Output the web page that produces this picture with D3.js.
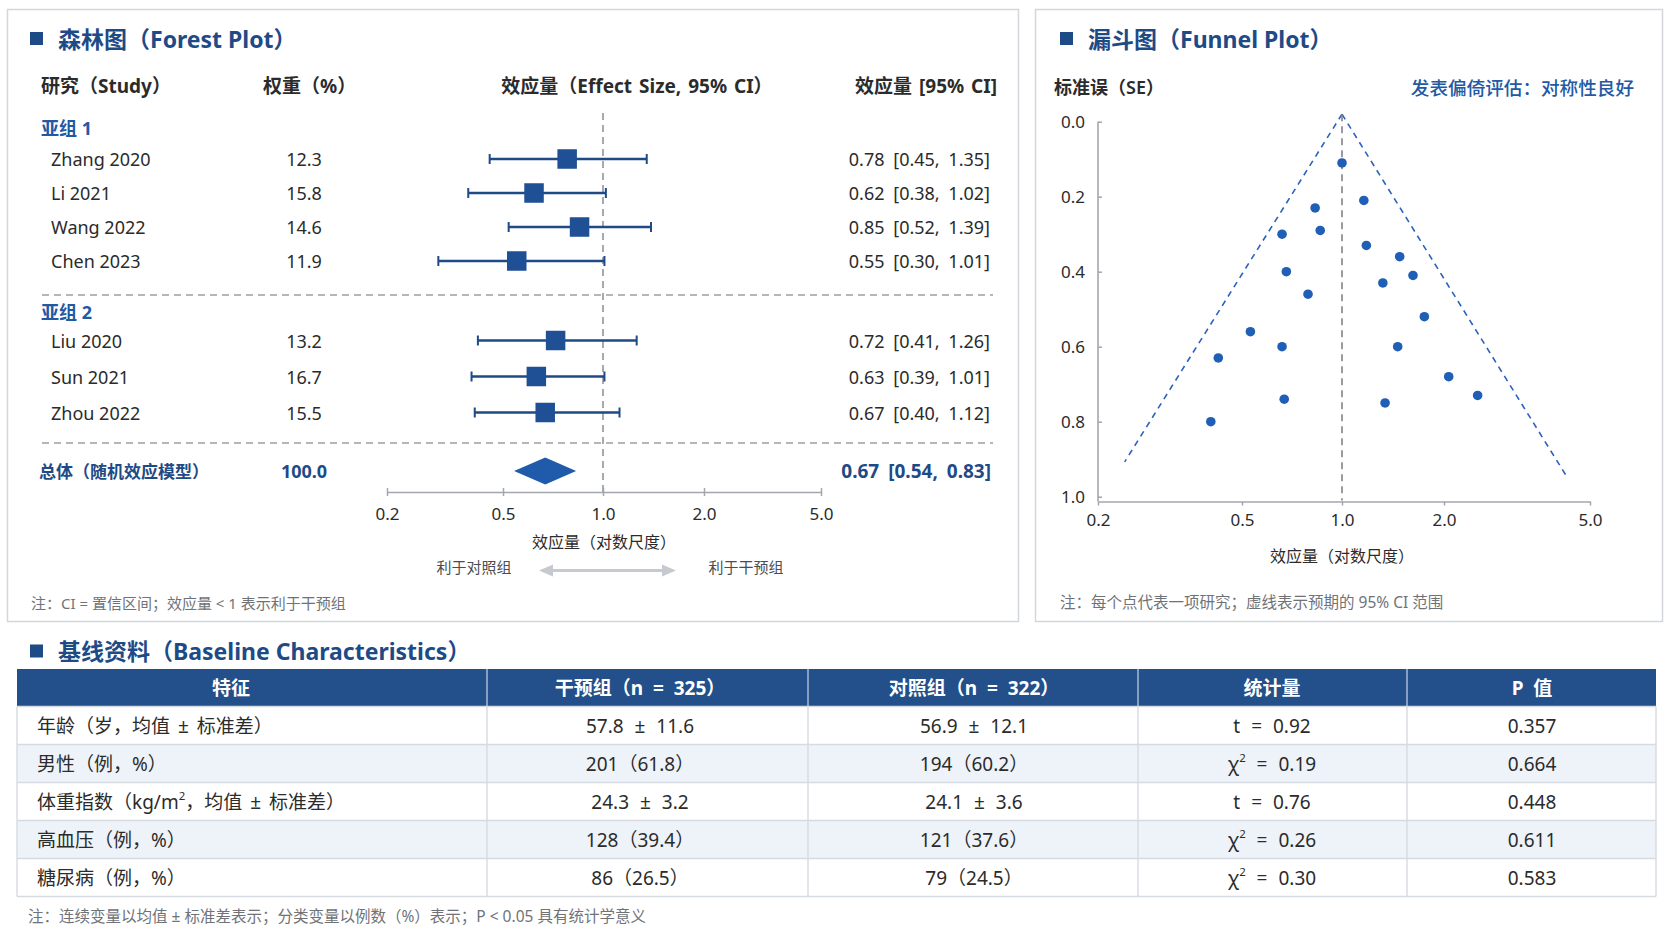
<!DOCTYPE html>
<html><head><meta charset="utf-8">
<script src="https://cdn.jsdelivr.net/npm/d3@7"></script>
<style>
body{margin:0;background:#ffffff;}
svg text{font-family:"Noto Sans","Noto Sans CJK SC",sans-serif;}
</style></head><body>
<svg id="c" width="1672" height="941"></svg>
<script>
// ---------------- DATA ----------------
const studies   = ["Zhang 2020","Li 2021","Wang 2022","Chen 2023","Liu 2020","Sun 2021","Zhou 2022"];
const studyGroup= [1,1,1,1,2,2,2];
const weights   = [12.3,15.8,14.6,11.9,13.2,16.7,15.5];
const effects   = [0.78,0.62,0.85,0.55,0.72,0.63,0.67];
const ciLow     = [0.45,0.38,0.52,0.30,0.41,0.39,0.40];
const ciHigh    = [1.35,1.02,1.39,1.01,1.26,1.01,1.12];
const subgroupLabels = ["亚组 1","亚组 2"];
const overallLabel = "总体（随机效应模型）";
const overallWeight = 100.0;
const overallEffect = 0.67;
const overallLow = 0.54;
const overallHigh = 0.83;
const forestTicks = [0.2,0.5,1.0,2.0,5.0];

const funnelES = [1.00,1.16,0.83,0.66,0.86,1.18,1.48,0.68,1.32,1.62,0.79,1.75,0.53,0.66,1.46,0.43,2.06,2.47,0.67,1.34,0.41];
const funnelSE = [0.11,0.21,0.23,0.30,0.29,0.33,0.36,0.40,0.43,0.41,0.46,0.52,0.56,0.60,0.60,0.63,0.68,0.73,0.74,0.75,0.80];
const funnelLeftES  = [1.0,0.237];
const funnelLeftSE  = [-0.02,0.907];
const funnelRightES = [1.0,4.35];
const funnelRightSE = [-0.02,0.951];
const funnelCenterSE = [-0.02,1.01];
const funnelXTicks = [0.2,0.5,1.0,2.0,5.0];
const funnelYTicks = [0.0,0.2,0.4,0.6,0.8,1.0];

const tableHeaders = ["特征","干预组（n = 325）","对照组（n = 322）","统计量","P 值"];
const features     = ["年龄（岁，均值 ± 标准差）","男性（例，%）","体重指数（kg/m²，均值 ± 标准差）","高血压（例，%）","糖尿病（例，%）"];
const intervention = ["57.8 ± 11.6","201（61.8）","24.3 ± 3.2","128（39.4）","86（26.5）"];
const control      = ["56.9 ± 12.1","194（60.2）","24.1 ± 3.6","121（37.6）","79（24.5）"];
const statistic    = ["t = 0.92","χ² = 0.19","t = 0.76","χ² = 0.26","χ² = 0.30"];
const pValues      = ["0.357","0.664","0.448","0.611","0.583"];

// ---------------- STYLE ----------------
const NAVY = "#1e4a86", BLUE = "#2359a3", BOX = "#1f4f95", TXT = "#2b2b2b", GREY = "#6f7378";
const svg = d3.select("#c");

function superText(sel, str){
  const parts = str.split("²");
  sel.text(null);
  parts.forEach((p,i)=>{
    sel.append("tspan").text(p).attr("dy", i>0 ? 7 : null);
    if(i < parts.length-1) sel.append("tspan").text("2").attr("font-size","0.6em").attr("dy",-7);
  });
}

svg.append("rect").attr("x",7.5).attr("y",9.5).attr("width",1011).attr("height",612)
  .attr("fill","#fff").attr("stroke","#d3d6db").attr("stroke-width",1.5);
svg.append("rect").attr("x",1035.5).attr("y",9.5).attr("width",627).attr("height",612)
  .attr("fill","#fff").attr("stroke","#d3d6db").attr("stroke-width",1.5);

function sectionTitle(x, y, txt){
  svg.append("rect").attr("x",x).attr("y",y-6.5).attr("width",13).attr("height",13).attr("fill",NAVY);
  svg.append("text").attr("x",x+28).attr("y",y).attr("dominant-baseline","central")
    .attr("font-size",23).attr("font-weight",700).attr("fill",NAVY).text(txt);
}
sectionTitle(30, 38.5, "森林图（Forest Plot）");
sectionTitle(1060, 38.5, "漏斗图（Funnel Plot）");
sectionTitle(30, 651, "基线资料（Baseline Characteristics）");

function styleAxis(g){
  g.attr("font-family",null);
  g.selectAll(".tick text").attr("font-size",17).attr("fill",TXT);
  g.selectAll(".tick line").attr("stroke","#a3a7ad").attr("stroke-width",1.5);
  g.select(".domain").attr("stroke","#a3a7ad").attr("stroke-width",1.6);
}

// ---------------- FOREST PLOT ----------------
const fx = d3.scaleLog().domain(forestTicks).range([387,503,603,704,821]);
const forestAxisY = 492;
const rowY = (i) => studyGroup[i]===1 ? 159 + 34*i : 340.5 + 36*(i-4);
const subY = [128, 312];
const sepY = [295, 443];
const overallY = 471;

const hdr = svg.append("g").attr("font-size",19).attr("font-weight",700).attr("fill",TXT).attr("word-spacing",2);
hdr.append("text").attr("x",41).attr("y",86).attr("dominant-baseline","central").text("研究（Study）");
hdr.append("text").attr("x",263).attr("y",86).attr("dominant-baseline","central").text("权重（%）");
hdr.append("text").attr("x",637).attr("y",86).attr("text-anchor","middle").attr("dominant-baseline","central").text("效应量（Effect Size, 95% CI）");
hdr.append("text").attr("x",997).attr("y",86).attr("text-anchor","end").attr("dominant-baseline","central").text("效应量 [95% CI]");

svg.selectAll(".sub").data(subgroupLabels).join("text")
  .attr("x",41).attr("y",(d,i)=>subY[i]).attr("dominant-baseline","central")
  .attr("font-size",18).attr("font-weight",700).attr("fill",BLUE).text(d=>d);

svg.selectAll(".sep").data(sepY).join("line")
  .attr("x1",42).attr("x2",993).attr("y1",d=>d).attr("y2",d=>d)
  .attr("stroke","#9a9ea4").attr("stroke-width",1.3).attr("stroke-dasharray","7,5");

svg.append("line").attr("x1",fx(1)).attr("x2",fx(1)).attr("y1",113).attr("y2",forestAxisY)
  .attr("stroke","#8a8d92").attr("stroke-width",1.5).attr("stroke-dasharray","7,5");

const rows = svg.selectAll(".row").data(studies).join("g");
rows.append("text").attr("x",51).attr("y",(d,i)=>rowY(i)).attr("dominant-baseline","central")
  .attr("font-size",18).attr("fill",TXT).text(d=>d);
rows.append("text").attr("x",304).attr("y",(d,i)=>rowY(i)).attr("dominant-baseline","central")
  .attr("text-anchor","middle").attr("font-size",18).attr("fill",TXT).text((d,i)=>weights[i].toFixed(1));
rows.append("text").attr("x",990).attr("y",(d,i)=>rowY(i)).attr("dominant-baseline","central")
  .attr("text-anchor","end").attr("font-size",18).attr("word-spacing",4).attr("fill",TXT)
  .text((d,i)=>`${effects[i].toFixed(2)} [${ciLow[i].toFixed(2)}, ${ciHigh[i].toFixed(2)}]`);
rows.append("line").attr("x1",(d,i)=>fx(ciLow[i])).attr("x2",(d,i)=>fx(ciHigh[i]))
  .attr("y1",(d,i)=>rowY(i)).attr("y2",(d,i)=>rowY(i)).attr("stroke",NAVY).attr("stroke-width",2.5);
rows.append("line").attr("x1",(d,i)=>fx(ciLow[i])).attr("x2",(d,i)=>fx(ciLow[i]))
  .attr("y1",(d,i)=>rowY(i)-5).attr("y2",(d,i)=>rowY(i)+5).attr("stroke",NAVY).attr("stroke-width",2);
rows.append("line").attr("x1",(d,i)=>fx(ciHigh[i])).attr("x2",(d,i)=>fx(ciHigh[i]))
  .attr("y1",(d,i)=>rowY(i)-5).attr("y2",(d,i)=>rowY(i)+5).attr("stroke",NAVY).attr("stroke-width",2);
const boxSize = 19.5;
rows.append("rect").attr("x",(d,i)=>fx(effects[i])-boxSize/2).attr("y",(d,i)=>rowY(i)-boxSize/2)
  .attr("width",boxSize).attr("height",boxSize).attr("fill",BOX);

svg.append("text").attr("x",39).attr("y",overallY).attr("dominant-baseline","central")
  .attr("font-size",17).attr("font-weight",700).attr("fill",NAVY).text(overallLabel);
svg.append("text").attr("x",304).attr("y",overallY).attr("dominant-baseline","central").attr("text-anchor","middle")
  .attr("font-size",18).attr("font-weight",700).attr("fill",NAVY).text(overallWeight.toFixed(1));
svg.append("text").attr("x",991).attr("y",overallY).attr("dominant-baseline","central").attr("text-anchor","end")
  .attr("font-size",19).attr("font-weight",700).attr("word-spacing",4).attr("fill",NAVY)
  .text(`${overallEffect.toFixed(2)} [${overallLow.toFixed(2)}, ${overallHigh.toFixed(2)}]`);
svg.append("path").attr("fill","#1f5aab")
  .attr("d",`M${fx(overallLow)},${overallY} L${fx(overallEffect)},${overallY-13.5} L${fx(overallHigh)},${overallY} L${fx(overallEffect)},${overallY+13.5} Z`);

const gfx = svg.append("g").attr("transform",`translate(0,${forestAxisY})`)
  .call(d3.axisBottom(fx).tickValues(forestTicks).tickFormat(d3.format(".1f")).tickSizeInner(5).tickSizeOuter(0).tickPadding(11));
styleAxis(gfx);
gfx.selectAll(".tick line").attr("y1",-4).attr("y2",4);

svg.append("text").attr("x",604).attr("y",542).attr("text-anchor","middle").attr("dominant-baseline","central")
  .attr("font-size",16).attr("fill",TXT).text("效应量（对数尺度）");
svg.append("text").attr("x",474).attr("y",567).attr("text-anchor","middle").attr("dominant-baseline","central")
  .attr("font-size",15).attr("fill","#4a4d52").text("利于对照组");
svg.append("text").attr("x",746).attr("y",567).attr("text-anchor","middle").attr("dominant-baseline","central")
  .attr("font-size",15).attr("fill","#4a4d52").text("利于干预组");
const ay = 570.5, ax1 = 539, ax2 = 676;
svg.append("line").attr("x1",ax1+8).attr("x2",ax2-8).attr("y1",ay).attr("y2",ay).attr("stroke","#c6cad0").attr("stroke-width",3);
svg.append("path").attr("fill","#c6cad0").attr("d",`M${ax1},${ay} L${ax1+14},${ay-6} L${ax1+14},${ay+6} Z`);
svg.append("path").attr("fill","#c6cad0").attr("d",`M${ax2},${ay} L${ax2-14},${ay-6} L${ax2-14},${ay+6} Z`);

svg.append("text").attr("x",31).attr("y",603).attr("dominant-baseline","central")
  .attr("font-size",15).attr("fill",GREY).text("注：CI = 置信区间；效应量 < 1 表示利于干预组");

// ---------------- FUNNEL PLOT ----------------
const ux = d3.scaleLog().domain(funnelXTicks).range([1098,1242,1342,1444,1590]);
const uy = d3.scaleLinear().domain([0,1]).range([121.7,496.7]);
const funnelAxisY = 501.5;

svg.append("text").attr("x",1054).attr("y",87).attr("dominant-baseline","central")
  .attr("font-size",18).attr("font-weight",600).attr("fill",TXT).text("标准误（SE）");
svg.append("text").attr("x",1634).attr("y",87).attr("dominant-baseline","central").attr("text-anchor","end")
  .attr("font-size",18.6).attr("font-weight",500).attr("fill",BLUE).text("发表偏倚评估：对称性良好");

const gy = svg.append("g").attr("transform","translate(1098,0)")
  .call(d3.axisLeft(uy).tickValues(funnelYTicks).tickFormat(d3.format(".1f")).tickSizeInner(-4).tickSizeOuter(0).tickPadding(13));
styleAxis(gy);
gy.select(".domain").attr("d","M0,121.7V501.5");

const gux = svg.append("g").attr("transform",`translate(0,${funnelAxisY})`)
  .call(d3.axisBottom(ux).tickValues(funnelXTicks).tickFormat(d3.format(".1f")).tickSizeInner(4).tickSizeOuter(0).tickPadding(8));
styleAxis(gux);

const fline = d3.line().x(d=>ux(d[0])).y(d=>uy(d[1]));
svg.append("path").attr("d",fline(funnelLeftES.map((e,i)=>[e,funnelLeftSE[i]])))
  .attr("fill","none").attr("stroke","#2a62bd").attr("stroke-width",1.6).attr("stroke-dasharray","6,5");
svg.append("path").attr("d",fline(funnelRightES.map((e,i)=>[e,funnelRightSE[i]])))
  .attr("fill","none").attr("stroke","#2a62bd").attr("stroke-width",1.6).attr("stroke-dasharray","6,5");
svg.append("line").attr("x1",ux(1)).attr("x2",ux(1)).attr("y1",uy(funnelCenterSE[0])).attr("y2",uy(funnelCenterSE[1]))
  .attr("stroke","#808388").attr("stroke-width",1.6).attr("stroke-dasharray","7,5");

svg.selectAll(".pt").data(funnelES).join("circle")
  .attr("cx",d=>ux(d)).attr("cy",(d,i)=>uy(funnelSE[i])).attr("r",4.8).attr("fill","#1f5fb5");

svg.append("text").attr("x",1342).attr("y",556).attr("text-anchor","middle").attr("dominant-baseline","central")
  .attr("font-size",16).attr("fill",TXT).text("效应量（对数尺度）");
svg.append("text").attr("x",1060).attr("y",602).attr("dominant-baseline","central")
  .attr("font-size",15.5).attr("fill",GREY).text("注：每个点代表一项研究；虚线表示预期的 95% CI 范围");

// ---------------- TABLE ----------------
const colEdges = [17,487,808,1138,1407,1656];
const colText  = [37,640,974,1272,1532];
const headerTextX = [231,640,974,1272,1532];
const tTop = 669, hH = 37.5, rH = 38;
const tbl = svg.append("g");
tbl.append("rect").attr("x",colEdges[0]).attr("y",tTop).attr("width",colEdges[5]-colEdges[0]).attr("height",hH).attr("fill","#234f8b");
tbl.selectAll(".hsep").data(colEdges.slice(1,5)).join("line")
  .attr("x1",d=>d).attr("x2",d=>d).attr("y1",tTop).attr("y2",tTop+hH).attr("stroke","#c9d4e4").attr("stroke-width",1.2);
tbl.selectAll(".htxt").data(tableHeaders).join("text")
  .attr("x",(d,i)=>headerTextX[i]).attr("y",tTop+hH/2).attr("text-anchor","middle").attr("dominant-baseline","central")
  .attr("font-size",19).attr("font-weight",700).attr("word-spacing",5).attr("fill","#fff").text(d=>d);

const cols = [features, intervention, control, statistic, pValues];
features.forEach((f,r)=>{
  const y0 = tTop + hH + r*rH;
  tbl.append("rect").attr("x",colEdges[0]).attr("y",y0).attr("width",colEdges[5]-colEdges[0]).attr("height",rH)
    .attr("fill", r%2===1 ? "#eef3f9" : "#ffffff");
});
for(let r=0;r<=features.length;r++){
  const y = tTop + hH + r*rH;
  tbl.append("line").attr("x1",colEdges[0]).attr("x2",colEdges[5]).attr("y1",y).attr("y2",y)
    .attr("stroke","#d6dbe2").attr("stroke-width",1.4);
}
colEdges.forEach(x=>{
  tbl.append("line").attr("x1",x).attr("x2",x).attr("y1",tTop+hH).attr("y2",tTop+hH+features.length*rH)
    .attr("stroke","#d6dbe2").attr("stroke-width",1.4);
});
cols.forEach((col,c)=>{
  col.forEach((v,r)=>{
    const t = tbl.append("text").attr("x",colText[c]).attr("y",tTop+hH+r*rH+rH/2)
      .attr("dominant-baseline","central").attr("text-anchor", c===0 ? "start" : "middle")
      .attr("font-size",19).attr("word-spacing", c===0 ? 3 : 6).attr("fill",TXT);
    superText(t, v);
  });
});
svg.append("text").attr("x",28).attr("y",916).attr("dominant-baseline","central")
  .attr("font-size",15.5).attr("fill",GREY).text("注：连续变量以均值 ± 标准差表示；分类变量以例数（%）表示；P < 0.05 具有统计学意义");
</script>
</body></html>
